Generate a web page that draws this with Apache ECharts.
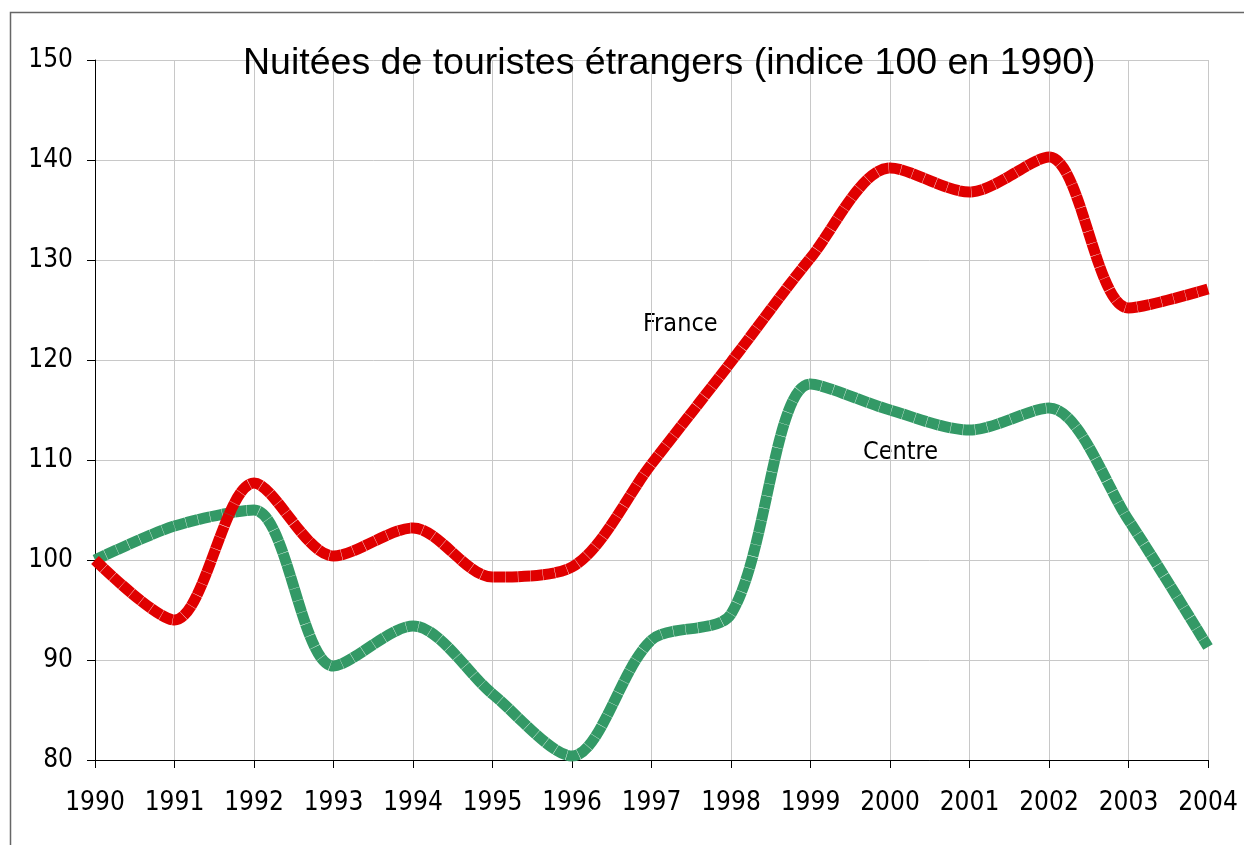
<!DOCTYPE html>
<html>
<head>
<meta charset="utf-8">
<script src="https://cdn.jsdelivr.net/npm/echarts@6/dist/echarts.min.js"></script>
<style>
  html, body { margin: 0; padding: 0; background: #fff; }
  #chart { width: 1244px; height: 845px; }
</style>
</head>
<body>
<div id="chart"></div>
<script>
// années
const years = ['1990', '1991', '1992', '1993', '1994', '1995', '1996', '1997',
  '1998', '1999', '2000', '2001', '2002', '2003', '2004']
// indice France
const franceData = [100, 94, 107.7, 100.4, 103.2, 98.3, 99.3, 109.6, 119.8,
  130.2, 139.2, 136.8, 140.3, 125.2, 127.1]
// indice Centre
const centreData = [100, 103.4, 105, 89.4, 93.4, 86.6, 80.4, 92, 94.6,
  117.6, 115, 113, 115.2, 104, 91.3]
const yMin = 80
const yMax = 150
const yStep = 10

const chart = echarts.init(document.getElementById('chart'))
const labelFont = '"DejaVu Sans Condensed", "DejaVu Sans", sans-serif'

const option = {
  animation: false,
  backgroundColor: '#fff',
  title: {
    text: 'Nuitées de touristes étrangers (indice 100 en 1990)',
    left: 243,
    top: 45,
    padding: 0,
    textStyle: {
      fontFamily: '"Liberation Sans", Arial, sans-serif',
      fontSize: 37.5,
      fontWeight: 'normal',
      color: '#000'
    }
  },
  grid: {
    left: 95,
    right: 36,
    top: 60,
    bottom: 85
  },
  xAxis: {
    type: 'category',
    data: years,
    boundaryGap: false,
    axisLine: { lineStyle: { color: '#000', width: 1 } },
    axisTick: { show: true, length: 8, lineStyle: { color: '#000' } },
    axisLabel: {
      margin: 30,
      color: '#000',
      fontFamily: labelFont,
      fontSize: 26,
      showMinLabel: true,
      showMaxLabel: true,
      interval: 0
    },
    splitLine: { show: true, lineStyle: { color: '#c8c8c8', width: 1 } }
  },
  yAxis: {
    type: 'value',
    min: yMin,
    max: yMax,
    interval: yStep,
    axisLine: { show: true, lineStyle: { color: '#000', width: 1 } },
    axisTick: { show: true, length: 8, lineStyle: { color: '#000' } },
    axisLabel: {
      margin: 22,
      color: '#000',
      fontFamily: labelFont,
      fontSize: 26
    },
    splitLine: { show: true, lineStyle: { color: '#c8c8c8', width: 1 } }
  },
  series: [
    {
      name: 'France',
      type: 'line',
      data: franceData,
      smooth: 0.3,
      symbol: 'none',
      lineStyle: { color: '#e00000', width: 11, type: [12, 0.35], cap: 'butt' },
      z: 3
    },
    {
      name: 'Centre',
      type: 'line',
      data: centreData,
      smooth: 0.3,
      symbol: 'none',
      lineStyle: { color: '#339966', width: 11, type: [12, 0.35], cap: 'butt' },
      z: 2
    }
  ],
  graphic: [
    {
      type: 'rect',
      shape: { x: 10.5, y: 12.5, width: 1400, height: 1000 },
      style: { fill: null, stroke: '#666', lineWidth: 1.5 },
      silent: true
    },
    {
      type: 'text',
      left: 643,
      top: 312,
      style: { text: 'France', font: '25px ' + labelFont, fill: '#000' }
    },
    {
      type: 'text',
      left: 863,
      top: 440,
      style: { text: 'Centre', font: '25px ' + labelFont, fill: '#000' }
    }
  ]
}

chart.setOption(option)
</script>
</body>
</html>
